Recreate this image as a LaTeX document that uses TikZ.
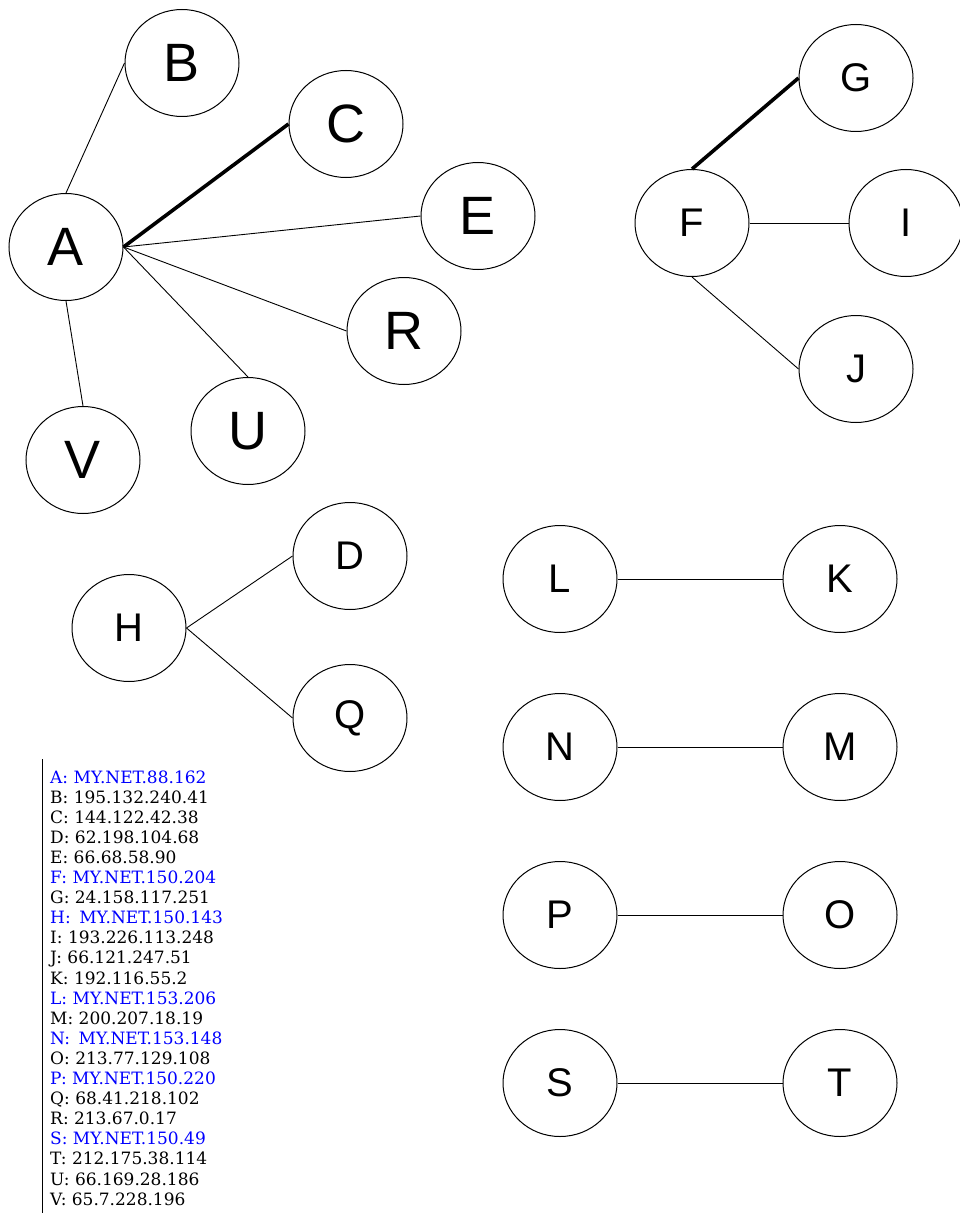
\documentclass[tikz,border=0pt]{standalone}
\usepackage{fontspec}
\setmainfont{Liberation Sans}
\newfontfamily\keyfont{DejaVu Serif}
\usetikzlibrary{shapes.geometric}

\tikzset{
  host/.style={draw, ellipse, line width=1pt, minimum width=114pt, minimum height=107pt,
    inner sep=0pt, font=\fontsize{40}{40}\selectfont},
  bighost/.style={host, font=\fontsize{54}{54}\selectfont},
  link/.style={line width=0.9pt},
  hotlink/.style={line width=3.6pt},
  keyline/.style={anchor=base west, inner sep=0pt, font=\keyfont\fontsize{17}{18}\selectfont}
}

\begin{document}
\begin{tikzpicture}[x=1pt, y=-1pt]
  \useasboundingbox (0,0) rectangle (959,1217);

  % group around A
  \node[bighost] (A) at (66,247) {A};
  \node[bighost] (B) at (182,63) {B};
  \node[bighost] (C) at (346,124) {C};
  \node[bighost] (E) at (478,216) {E};
  \node[bighost] (R) at (404,331) {R};
  \node[bighost] (U) at (248,431) {U};
  \node[bighost] (V) at (83,460) {V};
  \draw[link] (A.north) -- (B.west);
  \draw[hotlink] (A.east) -- (C.west);
  \draw[link] (A.east) -- (E.west);
  \draw[link] (A.east) -- (R.west);
  \draw[link] (A.east) -- (U.north);
  \draw[link] (A.south) -- (V.north);

  % group around F
  \node[host] (F) at (692,223) {F};
  \node[host] (G) at (856,78) {G};
  \node[host] (I) at (906,223) {I};
  \node[host] (J) at (856,369) {J};
  \draw[hotlink] (F.north) -- (G.west);
  \draw[link] (F.east) -- (I.west);
  \draw[link] (F.south) -- (J.west);

  % group around H
  \node[host] (H) at (129,628) {H};
  \node[host] (D) at (350,556) {D};
  \node[host] (Q) at (350,718) {Q};
  \draw[link] (H.east) -- (D.west);
  \draw[link] (H.east) -- (Q.west);

  % pairs
  \node[host] (L) at (560,579) {L};
  \node[host] (K) at (840,579) {K};
  \node[host] (N) at (560,747) {N};
  \node[host] (M) at (840,747) {M};
  \node[host] (P) at (560,915) {P};
  \node[host] (O) at (840,915) {O};
  \node[host] (S) at (560,1083) {S};
  \node[host] (T) at (840,1083) {T};
  \draw[link] (L) -- (K);
  \draw[link] (N) -- (M);
  \draw[link] (P) -- (O);
  \draw[link] (S) -- (T);

  % address key
  \draw[line width=0.9pt] (42,759) -- (42,1213);
  \foreach \t [count=\i] in {{\color{blue}A: MY.NET.88.162}, B: 195.132.240.41,
      C: 144.122.42.38, D: 62.198.104.68, E: 66.68.58.90,
      {\color{blue}F: MY.NET.150.204}, G: 24.158.117.251,
      {\color{blue}H:\enspace MY.NET.150.143}, I: 193.226.113.248,
      J: 66.121.247.51, K: 192.116.55.2, {\color{blue}L: MY.NET.153.206},
      M: 200.207.18.19, {\color{blue}N:\enspace MY.NET.153.148},
      O: 213.77.129.108, {\color{blue}P: MY.NET.150.220}, Q: 68.41.218.102,
      R: 213.67.0.17, {\color{blue}S: MY.NET.150.49}, T: 212.175.38.114,
      U: 66.169.28.186, V: 65.7.228.196}
    \node[keyline] (key\i) at (50,{783+20.1*(\i-1)}) {\t};

\end{tikzpicture}
\end{document}
